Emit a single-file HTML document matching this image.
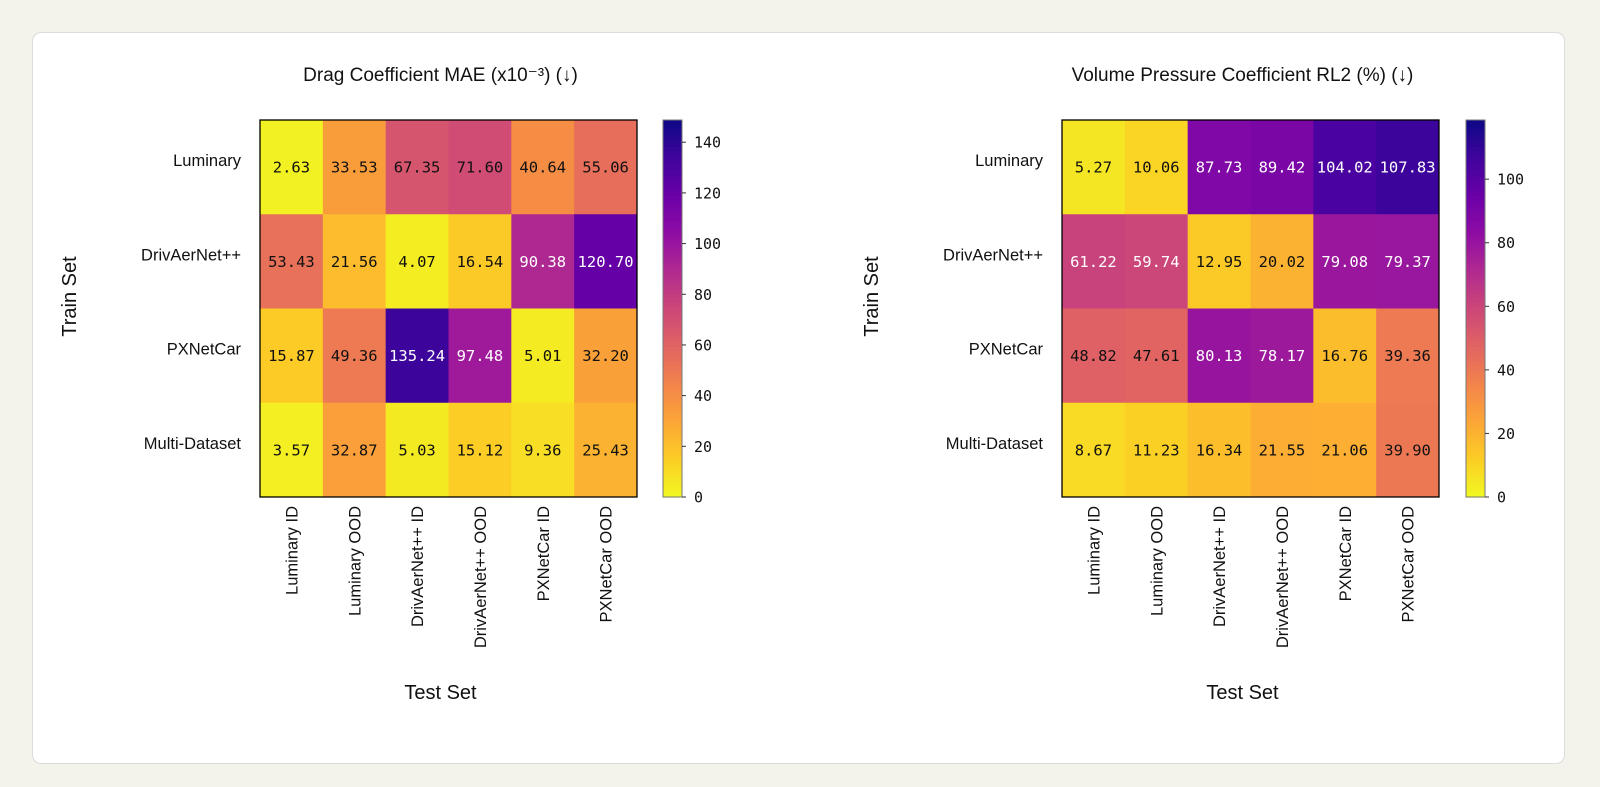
<!DOCTYPE html>
<html><head><meta charset="utf-8">
<style>
html,body{margin:0;padding:0;background:#f3f3ec;width:1600px;height:787px;overflow:hidden}
#card{position:absolute;left:32px;top:32px;width:1533px;height:732px;background:#fff;border:1px solid #dcdcdc;border-radius:9px;box-sizing:border-box}
svg{position:absolute;left:0;top:0}
.t{font-family:"Liberation Sans",sans-serif;fill:#111}
.m{font-family:"DejaVu Sans Mono","Liberation Mono",monospace}
</style></head>
<body>
<div id="card"></div>
<svg id="svg" width="1600" height="787"></svg>
<script>
const rowLabels = ["Luminary","DrivAerNet++","PXNetCar","Multi-Dataset"];
const colLabels = ["Luminary ID","Luminary OOD","DrivAerNet++ ID","DrivAerNet++ OOD","PXNetCar ID","PXNetCar OOD"];
const dragValues = [
 [2.63,33.53,67.35,71.60,40.64,55.06],
 [53.43,21.56,4.07,16.54,90.38,120.70],
 [15.87,49.36,135.24,97.48,5.01,32.20],
 [3.57,32.87,5.03,15.12,9.36,25.43]];
const pressureValues = [
 [5.27,10.06,87.73,89.42,104.02,107.83],
 [61.22,59.74,12.95,20.02,79.08,79.37],
 [48.82,47.61,80.13,78.17,16.76,39.36],
 [8.67,11.23,16.34,21.55,21.06,39.90]];
const dragTicks = [0,20,40,60,80,100,120,140];
const pressureTicks = [0,20,40,60,80,100];
const titles = ["Drag Coefficient MAE (x10\u207B\u00B3) (\u2193)","Volume Pressure Coefficient RL2 (%) (\u2193)"];

const plasma=["#0d0887","#41049d","#6a00a8","#8f0da4","#b12a90","#cc4778","#e16462","#f2844b","#fca636","#fcce25","#f0f921"];
function hex(h){return [1,3,5].map(i=>parseInt(h.substr(i,2),16));}
function cmap(t){ // reversed plasma: t=0 -> yellow
  t=Math.max(0,Math.min(1,1-t));
  const p=t*10,i=Math.min(9,Math.floor(p)),f=p-i;
  const a=hex(plasma[i]),b=hex(plasma[i+1]);
  return "rgb("+a.map((v,k)=>Math.round(v+(b[k]-v)*f)).join(",")+")";
}
const NS="http://www.w3.org/2000/svg";
const svg=document.getElementById('svg');
function el(tag,attrs,parent,text){const e=document.createElementNS(NS,tag);for(const k in attrs)e.setAttribute(k,attrs[k]);if(text!=null)e.textContent=text;(parent||svg).appendChild(e);return e;}

function drawHeatmap(ox,values,ticks,title,cbx,name){
  const g=el('g',{});
  
  
  const top=120,W=377,H=377;
  const nr=values.length,nc=values[0].length,cw=W/nc,ch=H/nr;
  let vmax=0;values.forEach(r=>r.forEach(v=>{if(v>vmax)vmax=v;}));vmax*=1.1;
  const xs=c=>ox+c*cw, ys=r=>top+r*ch;
  const tt=el('text',{x:ox+W/2-8,y:81,'text-anchor':'middle','font-size':19,class:'t'},g,title);
  
  
  values.forEach((row,r)=>row.forEach((v,c)=>{
    const rc=el('rect',{x:xs(c),y:ys(r),width:cw+0.5,height:ch+0.5,fill:cmap(v/vmax)},g);
    
    
    const tx=el('text',{x:xs(c)+cw/2,y:ys(r)+ch/2+5.5,'text-anchor':'middle','font-size':15.5,class:'m',fill:(v/vmax>0.5?'#fff':'#111')},g,v.toFixed(2));
    
    
  }));
  el('rect',{x:ox,y:top,width:W,height:H,fill:'none',stroke:'#000','stroke-width':1.3},g);
  rowLabels.forEach((l,r)=>{
    const t=el('text',{x:ox-19,y:ys(r)+ch/2-1,'text-anchor':'end','font-size':16.5,class:'t'},g,l);
    
    
  });
  colLabels.forEach((l,c)=>{
    const cx=xs(c)+cw/2+6;
    const t=el('text',{x:cx,y:506,'text-anchor':'end','font-size':16.5,class:'t',transform:'rotate(-90 '+cx+' 506)'},g,l);
    
    
  });
  const yl=el('text',{x:ox-184,y:top+H/2-12,'text-anchor':'middle','font-size':20,class:'t',transform:'rotate(-90 '+(ox-184)+' '+(top+H/2-12)+')'},g,'Train Set');
  
  
  const xl=el('text',{x:ox+W/2-8,y:699,'text-anchor':'middle','font-size':20,class:'t'},g,'Test Set');
  
  
  // colorbar
  const cb=el('g',{},g);
  
  
  const steps=100;
  for(let i=0;i<steps;i++){
    el('rect',{x:cbx,y:top+H-(i+1)*H/steps,width:19,height:H/steps+0.6,fill:cmap((i+0.5)/steps)},cb);
  }
  el('rect',{x:cbx,y:top,width:19,height:H,fill:'none',stroke:'#777','stroke-width':1},cb);
  const cy=v=>top+H-v/vmax*H;
  ticks.forEach(v=>{
    el('line',{x1:cbx+19,x2:cbx+23,y1:cy(v),y2:cy(v),stroke:'#333','stroke-width':1},cb);
    const t=el('text',{x:cbx+31,y:cy(v)+5.5,'font-size':15,class:'m',fill:'#111'},cb,String(v));
    
    
  });
}
drawHeatmap(260,dragValues,dragTicks,titles[0],663,'drag-heatmap');
drawHeatmap(1062,pressureValues,pressureTicks,titles[1],1466,'pressure-heatmap');
</script>
</body></html>
